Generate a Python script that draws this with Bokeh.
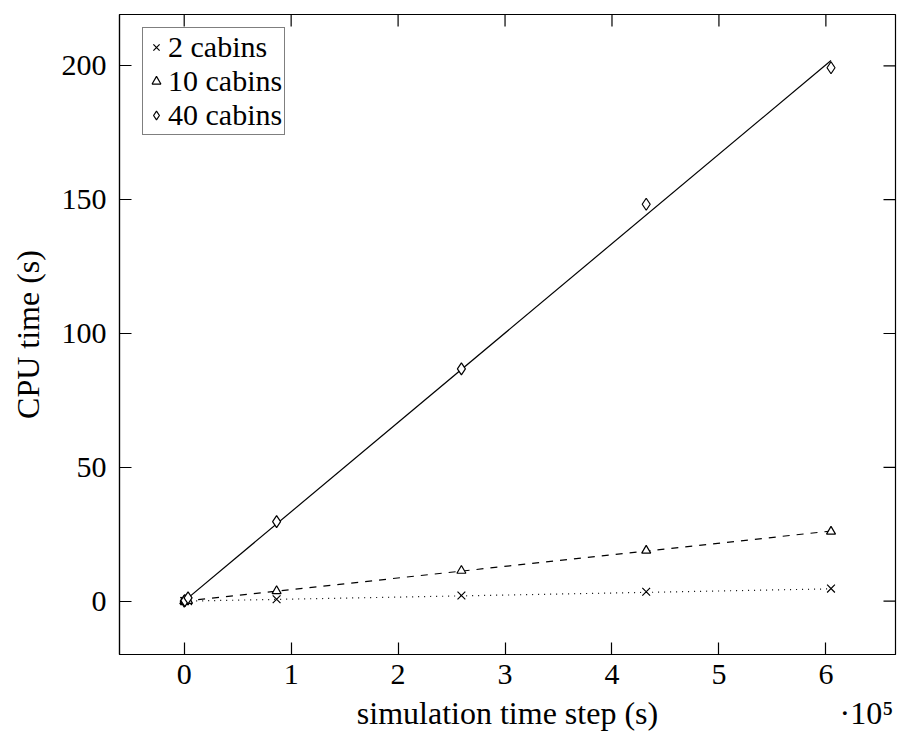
import numpy as np
from bokeh.plotting import figure
from bokeh.models import LinearAxis, Range1d, Legend, LegendItem, FixedTicker
from bokeh.embed import file_html
from bokeh.resources import INLINE

# ---- data (time step in seconds, CPU time in seconds) ----
time_steps = [60, 600, 3600, 86400, 259200, 432000, 604800]
cpu_2_cabins = [0.001, 0.005, 0.03, 0.7, 2.1, 3.5, 4.7]
cpu_10_cabins = [0.003, 0.03, 0.15, 3.8, 11.4, 18.9, 26.0]
cpu_40_cabins = [0.02, 0.2, 1.2, 29.7, 86.8, 148.3, 199.3]

# linear fit lines (end points)
fit_x = [0, 604800]
fit_2_cabins = [0, 4.6]
fit_10_cabins = [0, 26.2]
fit_40_cabins = [0, 202.0]

x_ticks = [0, 1, 2, 3, 4, 5, 6]
y_ticks = [0, 50, 100, 150, 200]
x_scale = 1e5
x_label = "simulation time step (s)"
y_label = "CPU time (s)"
x_multiplier = "·10⁵"

X0, X1 = -0.605, 6.651
Y0, Y1 = -19.93, 219.2

FONT = "Liberation Serif"
LW = 1.2

xs = np.array(time_steps) / x_scale
fx = np.array(fit_x) / x_scale

p = figure(width=898, height=736,
           x_range=Range1d(X0, X1), y_range=Range1d(Y0, Y1),
           output_backend="svg", toolbar_location=None,
           min_border_left=119, min_border_right=3, min_border_top=14,
           min_border_bottom=82)
p.xgrid.visible = False
p.ygrid.visible = False
p.outline_line_color = "black"
p.outline_line_width = LW
p.background_fill_color = "white"
p.border_fill_color = "white"


def style_axis(ax, ticks):
    ax.ticker = FixedTicker(ticks=ticks)
    ax.major_tick_in = 12
    ax.major_tick_out = 0
    ax.minor_tick_in = 0
    ax.minor_tick_out = 0
    ax.major_tick_line_color = "black"
    ax.major_tick_line_width = LW
    ax.axis_line_color = "black"
    ax.axis_line_width = LW
    ax.major_label_text_font = FONT
    ax.major_label_text_color = "black"
    ax.major_label_text_font_size = "30px"
    ax.axis_label_text_font = FONT
    ax.axis_label_text_font_style = "normal"
    ax.axis_label_text_font_size = "32px"
    ax.axis_label_text_color = "black"


style_axis(p.xaxis[0], x_ticks)
style_axis(p.yaxis[0], y_ticks)
p.xaxis[0].major_label_standoff = 10
p.yaxis[0].major_label_standoff = 13
p.yaxis[0].axis_label = y_label
p.yaxis[0].axis_label_standoff = 13

# second row below the x axis: axis title (centred) and the x10^5 multiplier
label_pos = [(X0 + X1) / 2, 6.38]
ax_lab = LinearAxis(ticker=FixedTicker(ticks=label_pos),
                    major_label_overrides={label_pos[0]: x_label,
                                           label_pos[1]: x_multiplier})
ax_lab.axis_line_color = None
ax_lab.major_tick_line_color = None
ax_lab.major_tick_in = 0
ax_lab.major_tick_out = 0
ax_lab.minor_tick_in = 0
ax_lab.minor_tick_out = 0
ax_lab.major_label_standoff = 8
ax_lab.major_label_text_font = FONT
ax_lab.major_label_text_font_size = "32px"
ax_lab.major_label_text_color = "black"
p.add_layout(ax_lab, "below")

# inward ticks on the right and top edges
p.ray(x=[X1] * len(y_ticks), y=y_ticks, length=12, length_units="screen",
      angle=np.pi, line_color="black", line_width=LW)
p.ray(x=x_ticks, y=[Y1] * len(x_ticks), length=12, length_units="screen",
      angle=-np.pi / 2, line_color="black", line_width=LW)

# fit lines
p.line(fx, fit_40_cabins, line_color="black", line_width=LW)
p.line(fx, fit_10_cabins, line_color="black", line_width=LW, line_dash="7 7")
p.line(fx, fit_2_cabins, line_color="black", line_width=LW, line_dash="1 5")

# markers
r2 = p.scatter(xs, cpu_2_cabins, marker="x", size=11, line_color="black", line_width=LW)
r10 = p.scatter(xs, cpu_10_cabins, marker="triangle", size=9, line_color="black",
                fill_color="white", line_width=LW)
r40 = p.scatter(xs, cpu_40_cabins, marker="diamond", size=12, line_color="black",
                fill_color="white", line_width=LW)

legend = Legend(items=[LegendItem(label="2 cabins", renderers=[r2]),
                       LegendItem(label="10 cabins", renderers=[r10]),
                       LegendItem(label="40 cabins", renderers=[r40])],
                location=(23, 519))
legend.label_text_font = FONT
legend.label_text_font_size = "30px"
legend.label_text_color = "black"
legend.label_height = 30
legend.glyph_height = 22
legend.glyph_width = 22
legend.label_standoff = 1
legend.padding = 2
legend.spacing = 0
legend.margin = 0
legend.border_line_color = "black"
legend.border_line_width = LW
legend.background_fill_color = "white"
legend.background_fill_alpha = 1.0
p.add_layout(legend)

open("out.html", "w").write(file_html(p, INLINE))
